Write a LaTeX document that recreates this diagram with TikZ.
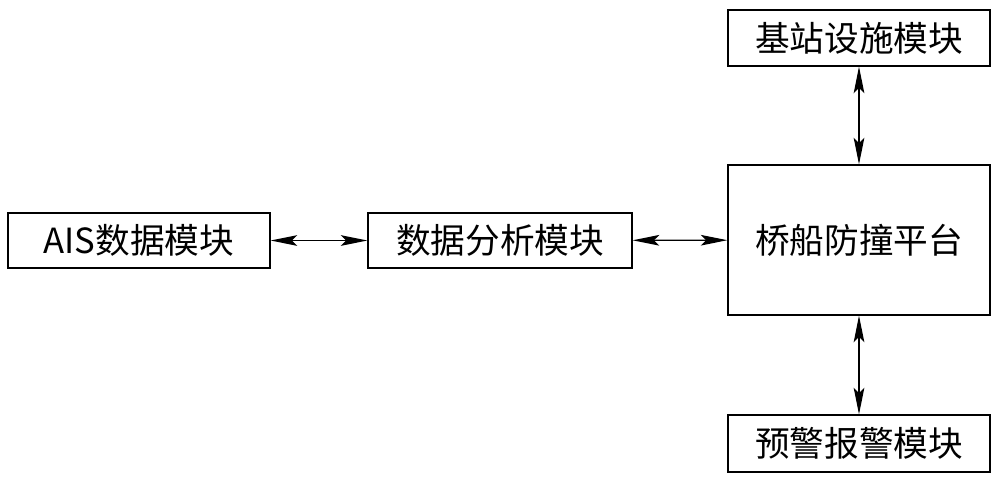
\documentclass[tikz,border=0pt]{standalone}
\usepackage{fontspec}
\newfontfamily\cjk{Noto Sans CJK SC}
\usetikzlibrary{arrows.meta}
\begin{document}
\begin{tikzpicture}[x=0.75pt,y=-0.75pt,
  box/.style={draw,line width=0.9pt,inner sep=0pt,font=\cjk\fontsize{26}{30}\selectfont},
  link/.style={line width=1pt,{Stealth[length=20pt,width=8pt,inset=4pt]}-{Stealth[length=20pt,width=8pt,inset=4pt]}}]
\useasboundingbox (0,0) rectangle (1000,480);
\node[box,minimum width=262*0.75pt,minimum height=55*0.75pt] (ais) at (139,240.5) {AIS数据模块};
\node[box,minimum width=264*0.75pt,minimum height=55*0.75pt] (ana) at (500,240.5) {数据分析模块};
\node[box,minimum width=262*0.75pt,minimum height=150*0.75pt] (plat) at (859,240) {桥船防撞平台};
\node[box,minimum width=262*0.75pt,minimum height=56*0.75pt] (base) at (859,38) {基站设施模块};
\node[box,minimum width=262*0.75pt,minimum height=57*0.75pt] (warn) at (859,443.5) {预警报警模块};
\draw[link] (ais) -- (ana);
\draw[link] (ana) -- (plat);
\draw[link] (base) -- (plat);
\draw[link] (plat) -- (warn);
\end{tikzpicture}
\end{document}
